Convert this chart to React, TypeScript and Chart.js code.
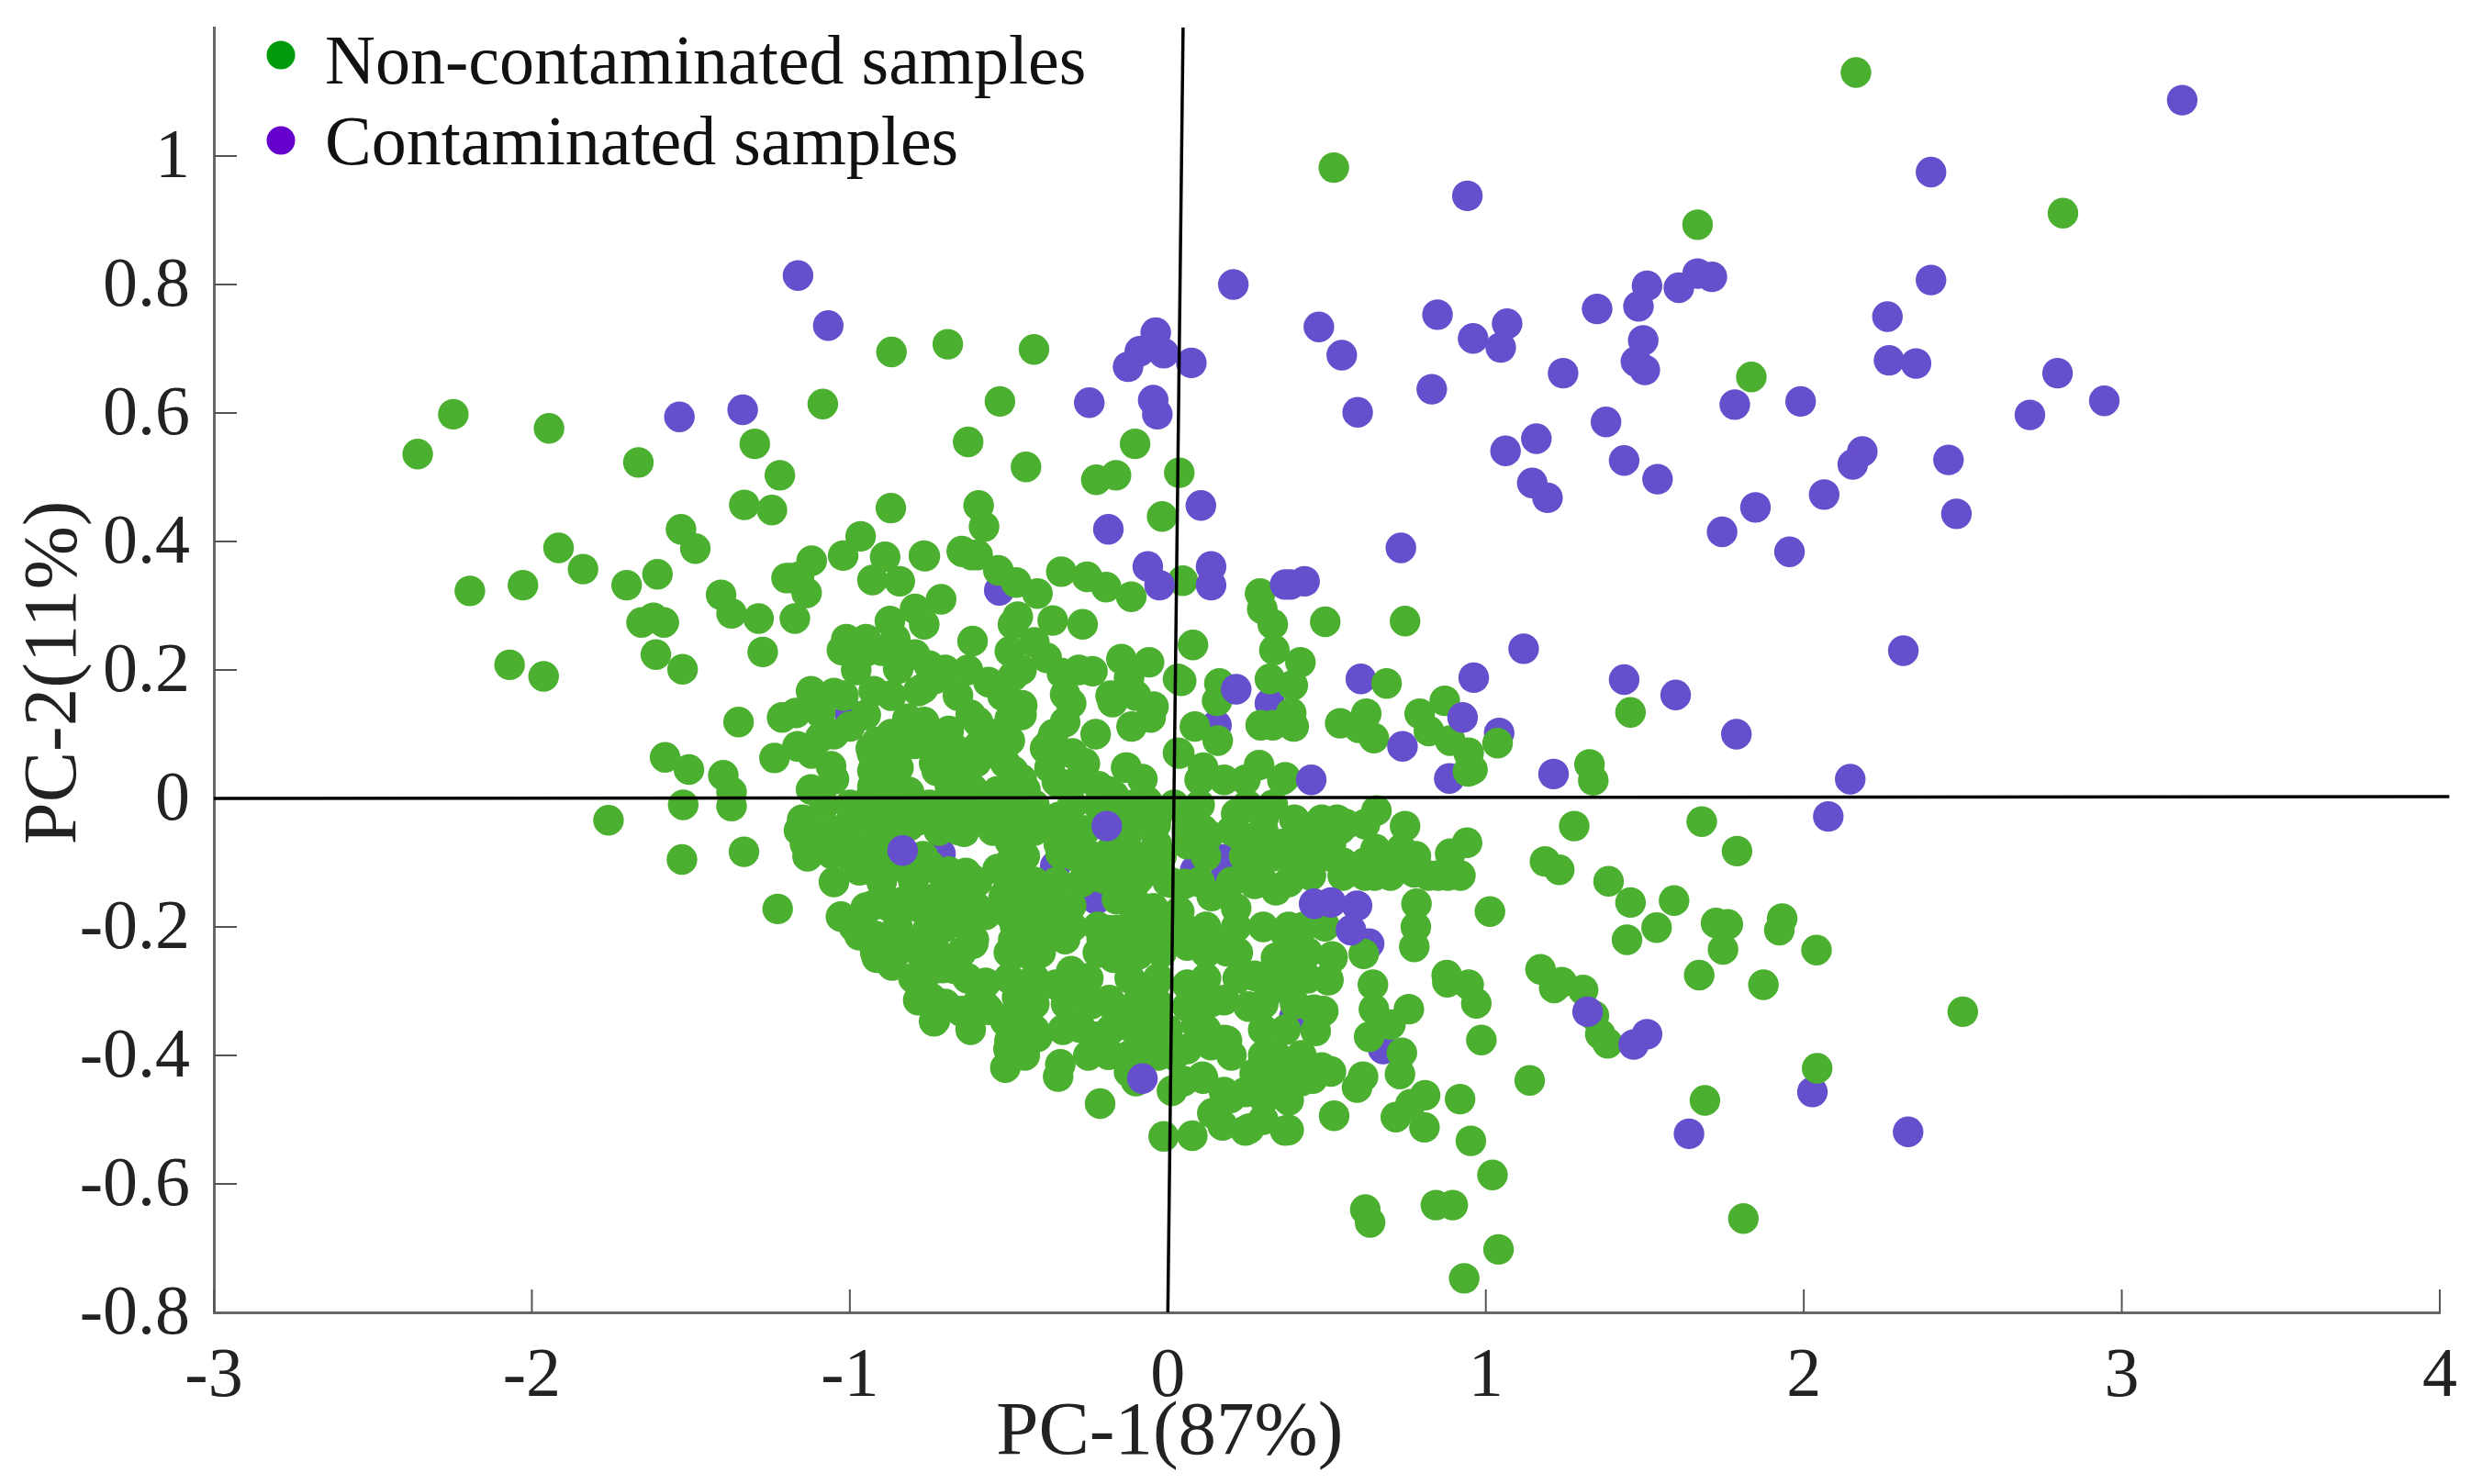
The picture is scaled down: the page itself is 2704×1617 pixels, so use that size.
import React, { useEffect, useRef } from "react";
import { Chart, registerables } from "chart.js";

Chart.register(...registerables);

type P = [number, number];

const xTicks = [-3, -2, -1, 0, 1, 2, 3, 4];
const yTickLabels = ["-0.8", "-0.6", "-0.4", "-0.2", "0", "0.2", "0.4", "0.6", "0.8", "1"];
const seriesNames = ["Non-contaminated samples", "Contaminated samples"];
const xTitle = "PC-1(87%)";
const yTitle = "PC-2(11%)";

const nonContaminatedOuter: P[] = [
  [2.164,1.13],[0.522,0.982],[1.666,0.893],[2.815,0.911],[1.835,0.656],[0.495,0.275],[0.746,0.276],
  [0.688,0.179],[1.455,0.134],[0.871,0.152],[0.792,0.132],[0.821,0.105],[0.888,0.09],[0.946,0.071],[0.958,0.045],[0.944,0.042],[1.037,0.086],[1.326,0.053],[1.338,0.028],
  [0.542,0.117],[0.624,0.132],[0.6,0.11],[0.648,0.094],[0.369,0.033],[0.417,0.212],[0.393,0.176],[0.388,0.133],[0.396,0.112],
  [0.656,-0.019],[0.746,-0.043],[0.653,-0.079],[0.734,-0.079],[0.78,-0.09],[0.941,-0.069],[0.888,-0.086],[1.278,-0.043],[1.186,-0.098],[0.532,-0.033],[0.484,-0.033],[0.398,-0.033],[0.436,-0.045],[0.542,-0.048],[0.513,-0.071],[0.427,-0.071],
  [1.679,-0.036],[1.79,-0.082],[1.231,-0.111],[1.386,-0.129],[1.455,-0.162],[1.592,-0.159],[0.782,-0.164],[1.013,-0.176],[0.78,-0.2],[0.775,-0.231],[0.492,-0.198],[1.537,-0.201],[1.444,-0.22],[1.724,-0.194],[1.761,-0.196],[1.746,-0.235],[1.932,-0.187],[1.923,-0.205],[2.04,-0.236],[1.671,-0.275],[1.873,-0.29],[2.5,-0.332],
  [0.877,-0.275],[0.879,-0.286],[0.946,-0.29],[0.97,-0.319],[1.172,-0.266],[1.239,-0.286],[1.215,-0.295],[1.306,-0.298],[1.34,-0.338],[1.36,-0.367],[1.383,-0.381],[0.986,-0.376],[1.138,-0.439],[2.042,-0.42],[1.689,-0.47],[0.919,-0.468],[0.809,-0.462],[0.763,-0.476],[0.717,-0.496],[0.807,-0.512],[0.523,-0.494],[0.38,-0.516],[0.953,-0.533],[1.021,-0.586],[0.621,-0.64],[0.636,-0.66],[0.843,-0.633],[0.896,-0.633],[1.81,-0.654],[1.04,-0.702],[0.932,-0.747],
  [0.505,-0.283],[0.517,-0.246],[0.616,-0.242],[0.645,-0.29],[0.758,-0.328],[0.648,-0.328],[0.7,-0.352],[0.633,-0.371],[0.736,-0.396],[0.73,-0.429],[0.614,-0.433],[0.595,-0.45],[0.46,-0.329],[0.489,-0.331],[0.465,-0.362],[0.484,-0.419],[0.513,-0.425],[0.456,-0.436],[0.383,-0.429],[0.306,-0.466],[0.256,-0.514],[0.33,-0.414],[0.28,-0.436],[0.369,-0.517],[0.518,-0.248],[0.504,-0.281],[0.494,-0.199],[0.379,-0.248],[0.388,-0.262],[0.369,-0.21],[0.427,-0.2],
  [0.38,-0.09],[0.455,-0.1],[0.51,-0.09],[0.595,-0.114],[0.65,-0.12],[0.775,-0.115],[0.85,-0.12],
];

const nonContaminatedLeftArm: P[] = [
  [-2.247,0.598],[-2.359,0.536],[-1.946,0.576],[-1.665,0.523],[-1.299,0.552],[-1.22,0.503],[-1.085,0.614],[-0.869,0.695],[-0.692,0.707],[-0.421,0.699],[-0.528,0.618],[-0.628,0.555],[-0.446,0.516],[-0.225,0.496],[-0.163,0.503],[-0.103,0.552],[0.036,0.507],[-0.018,0.439],
  [-1.332,0.457],[-1.245,0.449],[-1.531,0.419],[-1.486,0.389],[-1.916,0.39],[-1.839,0.357],[-1.702,0.332],[-1.605,0.349],[-2.028,0.332],[-2.195,0.323],[-0.871,0.452],[-0.595,0.456],[-0.578,0.423],[-0.966,0.408],[-1.021,0.378],[-1.12,0.37],[-1.182,0.343],[-0.889,0.376],[-0.767,0.378],[-0.648,0.385],[-0.598,0.379],
  [-1.618,0.281],[-1.655,0.274],[-1.585,0.274],[-1.61,0.224],[-1.526,0.201],[-2.07,0.208],[-1.963,0.19],[-1.274,0.228],[0.079,0.239],[0.032,0.186],
  [-1.405,0.317],[-1.372,0.288],[-1.287,0.28],[-1.136,0.32],[-1.173,0.28],[-0.929,0.34],[-0.843,0.338],[-1.199,0.343],[-1.16,0.345],
  [-0.795,0.295],[-0.874,0.276],[-1.011,0.248],[-1.025,0.231],[-0.949,0.229],[-0.949,0.248],[-0.857,0.248],[-0.848,0.202],[-0.795,0.224],[-0.785,0.167],[-0.925,0.167],[-1.35,0.119],
  [-1.122,0.167],[-1.05,0.164],[-1.213,0.126],[-1.17,0.133],[-1.093,0.133],[-1.165,0.081],[-1.237,0.063],[-1.059,0.05],[-1.122,0.014],[-1.093,0.095],[-1.0,0.112],[-0.915,0.088],[-0.862,0.062],[-0.929,0.043],[-0.929,0.019],[-0.819,0.095],[-0.819,0.124],[-0.814,0.01],
  [-1.581,0.064],[-1.506,0.045],[-1.398,0.036],[-1.372,0.01],[-1.372,-0.012],[-1.524,-0.01],[-1.759,-0.034],[-1.333,-0.083],[-1.528,-0.095],[-1.15,-0.033],[-1.126,-0.048],[-1.16,-0.05],[-1.0,-0.038],[-0.92,-0.01],[-1.141,-0.071],[-1.074,-0.076],[-0.987,-0.071],[-0.9,-0.057],[-0.814,-0.043],[-0.814,-0.005],
  [-1.227,-0.172],[-1.028,-0.184],[-0.987,-0.2],[-0.93,-0.167],[-0.881,-0.167],[-0.824,-0.167],[-0.915,-0.248],[-0.867,-0.26],[-0.92,-0.214],[-0.852,-0.238],[-0.795,-0.224],[-0.785,-0.314],[-0.949,-0.11],[-0.881,-0.11],[-0.814,-0.114],
];

const nonContaminatedUpperCore: P[] = [
  [-0.764,0.377],[-0.646,0.384],[-0.617,0.379],[-0.533,0.355],[-0.477,0.336],[-0.41,0.319],[-0.335,0.353],[-0.254,0.345],[-0.194,0.329],[0.047,0.339],[0.29,0.319],[-0.115,0.314],[-0.713,0.31],[-0.766,0.271],
  [-0.472,0.283],[-0.362,0.277],[-0.268,0.271],[-0.487,0.271],[-0.614,0.245],[-0.629,0.2],[-0.564,0.181],[-0.751,0.207],[-0.732,0.186],[-0.77,0.171],[-0.497,0.229],[-0.42,0.243],[-0.381,0.219],[-0.333,0.195],[-0.487,0.19],[-0.458,0.145],[-0.497,0.124],[-0.323,0.162],[-0.304,0.148],[-0.323,0.119],
  [-0.237,0.198],[-0.146,0.217],[-0.059,0.212],[-0.122,0.188],[-0.174,0.15],[-0.045,0.143],[-0.054,0.126],[-0.114,0.112],[0.042,0.183],[0.162,0.179],[0.155,0.152],[0.321,0.186],[0.335,0.231],[0.297,0.295],[0.33,0.271],[0.085,0.112],[0.157,0.09],[0.032,0.071],[0.292,0.114],[0.33,0.114],
  [-0.689,0.105],[-0.597,0.119],[-0.597,0.081],[-0.766,0.119],[-0.727,0.043],[-0.66,0.048],[-0.602,0.057],[-0.497,0.09],[-0.487,0.043],[-0.372,0.086],[-0.372,0.048],[-0.343,0.024],[-0.227,0.1],[-0.261,0.054],[-0.218,0.019],[-0.131,0.048],[-0.17,0.005],[-0.064,-0.005],[-0.448,0.014],[-0.612,0.014],[0.1,0.029],[0.177,0.029],[0.287,0.052],[0.244,0.029],[0.36,0.029],
];

const nonContaminatedLowerCore: P[] = [
  [-0.689,-0.024],[-0.756,-0.029],[-0.621,-0.024],[-0.641,-0.052],[-0.497,-0.029],[-0.42,-0.024],[-0.343,-0.029],[-0.497,-0.067],[-0.304,-0.048],[-0.343,-0.071],[-0.16,-0.024],[-0.073,-0.029],[-0.035,-0.029],[-0.035,-0.071],[-0.179,-0.081],[0.061,-0.029],[0.215,-0.024],[0.129,-0.057],[0.302,-0.029],[0.225,-0.057],[0.061,-0.071],[0.36,-0.071],[0.282,-0.081],
  [-0.213,-0.475],[-0.338,-0.414],[-0.345,-0.433],[-0.511,-0.419],[-0.501,-0.39],[-0.41,-0.371],[-0.472,-0.305],[-0.487,-0.338],[-0.564,-0.329],[-0.65,-0.331],[-0.732,-0.345],[-0.747,-0.31],[-0.708,-0.264],[-0.761,-0.269],[-0.453,-0.24],[-0.612,-0.226],[-0.588,-0.29],[-0.352,-0.29],[-0.304,-0.269],[-0.285,-0.3],[-0.275,-0.357],[-0.189,-0.395],[-0.184,-0.314],
  [-0.122,-0.426],[-0.045,-0.395],[-0.035,-0.333],[-0.045,-0.29],[-0.112,-0.357],[-0.16,-0.343],[-0.227,-0.371],[-0.17,-0.248],[-0.093,-0.243],[-0.054,-0.205],[-0.16,-0.205],[-0.208,-0.219],[0.013,-0.455],[-0.013,-0.526],[0.077,-0.525],[0.172,-0.509],[0.244,-0.517],
  [0.061,-0.229],[0.186,-0.238],[0.061,-0.29],[0.061,-0.324],[0.177,-0.376],[0.254,-0.324],[0.177,-0.314],[0.09,-0.352],[0.061,-0.39],[0.109,-0.433],[0.177,-0.457],[0.244,-0.457],[0.302,-0.467],[0.273,-0.428],[0.34,-0.4],[0.273,-0.276],[0.34,-0.248],[0.32,-0.3],[0.36,-0.27],[0.215,-0.2],[0.215,-0.171],[0.273,-0.133],[0.34,-0.143],[0.138,-0.152],[0.061,-0.205],[0.273,-0.114],[0.052,-0.133],
  [-0.689,-0.114],[-0.747,-0.105],[-0.62,-0.124],[-0.535,-0.11],[-0.497,-0.1],[-0.689,-0.157],[-0.747,-0.157],[-0.641,-0.162],[-0.516,-0.152],[-0.458,-0.167],[-0.381,-0.167],[-0.304,-0.167],[-0.208,-0.114],[-0.16,-0.1],[-0.246,-0.11],[-0.112,-0.114],[-0.035,-0.11],[-0.045,-0.171],[-0.112,-0.167],[-0.16,-0.157],[-0.756,-0.205],[-0.737,-0.229],[-0.766,-0.248],[-0.497,-0.181],[-0.381,-0.2],[-0.323,-0.219],[-0.573,-0.181],
  [-1.145,-0.034],[-1.133,-0.049],[-0.996,-0.041],[-1.133,-0.09],[-1.058,-0.086],[-0.97,-0.112],[-0.909,-0.086],[-0.934,0.003],[-0.934,-0.034],[-0.97,-0.213],[-0.909,-0.161],[-0.834,-0.161],[-0.859,-0.235],[-0.735,-0.265],[-0.672,-0.265],[-0.74,-0.313],[-0.648,-0.332],[-0.735,-0.347],[-0.573,-0.324],[-0.573,-0.287],[-0.474,-0.31],[-0.511,-0.347],[-0.498,-0.377],[-0.187,-0.399],[-0.187,-0.317],[-0.113,-0.354],[-0.038,-0.287],[0.136,-0.317],[-0.063,-0.384],[0.136,-0.384],[0.111,-0.436],[0.186,-0.377],[0.198,-0.466],
  [-0.71,-0.19],[-0.61,-0.22],[-0.486,-0.22],[-0.411,-0.176],[-0.187,-0.205],[-0.113,-0.198],[0.012,-0.213],[0.136,-0.22],[-0.66,-0.161],[-0.511,-0.161],[-0.337,-0.168],[-0.088,-0.168],[0.036,-0.176],
  [-0.847,0.048],[-0.735,0.055],[-0.685,0.018],[-0.511,0.055],[-0.386,0.078],[-0.262,0.055],[-0.13,0.048],[0.036,0.07],[-0.187,0.011],[0.111,0.048],[-0.536,0.011],[-0.349,0.026],[-0.672,0.078],[-0.934,0.078],[-0.797,0.085],
  [-0.785,-0.034],[-0.66,-0.049],[-0.486,-0.027],[-0.361,-0.034],[-0.486,-0.064],[-0.187,-0.086],[-0.337,-0.086],[-0.038,-0.041],[0.111,-0.049],[-0.76,-0.108],[-0.635,-0.116],[-0.461,-0.116],[-0.212,-0.123],[-0.088,-0.123],[0.012,-0.131],
];

const nonContaminatedDenseUpper: P[] = [
  [-0.9,0.23],
  [-0.98,0.2],[-0.7,0.2],[-0.46,0.2],[-0.28,0.2],
  [-1.02,0.16],[-0.87,0.16],[-0.66,0.16],[-0.52,0.16],[-0.18,0.16],[-0.1,0.16],
  [-0.95,0.13],[-0.62,0.13],[-0.46,0.13],
  [-1.05,0.1],[-0.87,0.1],[-0.76,0.1],[-0.54,0.1],[-0.36,0.1],
  [-1.12,0.07],[-0.93,0.07],[-0.7,0.07],[-0.54,0.07],[-0.3,0.07],
  [-1.05,0.03],[-0.87,0.03],[-0.65,0.03],[-0.46,0.03],[-0.28,0.03],[-0.08,0.03],
];

const nonContaminatedDenseLower: P[] = [
  [-1.08,-0.01],[-1.0,-0.01],[-0.87,-0.01],[-0.75,-0.01],[-0.68,-0.01],[-0.58,-0.01],[-0.5,-0.01],[-0.42,-0.01],[-0.3,-0.01],[-0.22,-0.01],[-0.11,-0.01],[0.02,-0.01],[0.1,-0.01],[0.25,-0.01],[0.33,-0.01],
  [-1.05,-0.05],[-0.86,-0.05],[-0.72,-0.05],[-0.55,-0.05],[-0.42,-0.05],[-0.26,-0.05],[-0.12,-0.05],[0.06,-0.05],[0.2,-0.05],[0.3,-0.05],[0.56,-0.04],[0.62,-0.04],
  [-1.0,-0.09],[-0.84,-0.09],[-0.77,-0.09],[-0.45,-0.09],[-0.29,-0.09],[-0.24,-0.09],[-0.1,-0.09],[-0.02,-0.09],[0.12,-0.09],[0.24,-0.09],[0.33,-0.09],[0.55,-0.1],[0.62,-0.1],[0.7,-0.1],
  [-1.05,-0.13],[-0.9,-0.13],[-0.8,-0.13],[-0.7,-0.13],[-0.6,-0.13],[-0.5,-0.13],[-0.42,-0.13],[-0.35,-0.13],[-0.27,-0.13],[-0.18,-0.13],[-0.1,-0.13],[0.0,-0.13],[0.1,-0.13],[0.2,-0.13],[0.3,-0.13],[0.38,-0.13],[0.45,-0.12],[0.55,-0.12],[0.62,-0.12],[0.7,-0.12],[0.82,-0.12],[0.88,-0.12],[0.92,-0.12],
  [-0.95,-0.17],[-0.78,-0.17],[-0.7,-0.17],[-0.6,-0.17],
  [-0.85,-0.2],[-0.7,-0.2],[-0.63,-0.2],[-0.48,-0.2],[-0.43,-0.2],[-0.3,-0.2],[-0.22,-0.2],[-0.12,-0.2],[0.0,-0.2],[0.12,-0.2],[0.3,-0.2],[0.38,-0.2],
  [-0.92,-0.24],[-0.78,-0.24],[-0.65,-0.24],[-0.5,-0.24],[-0.4,-0.24],[-0.22,-0.24],[-0.12,-0.24],[-0.02,-0.24],[0.12,-0.24],[0.22,-0.24],[0.38,-0.24],[0.44,-0.24],
  [-0.8,-0.28],[-0.63,-0.28],[-0.5,-0.28],[-0.42,-0.28],[-0.25,-0.28],[-0.12,-0.28],[-0.03,-0.28],[0.12,-0.28],[0.22,-0.28],[0.38,-0.28],[0.44,-0.28],
  [-0.7,-0.32],[-0.6,-0.32],[-0.42,-0.32],[-0.32,-0.32],[-0.24,-0.32],[-0.1,-0.32],[-0.03,-0.32],[0.3,-0.32],[0.4,-0.32],
  [-0.62,-0.36],[-0.42,-0.36],[-0.33,-0.36],[-0.18,-0.36],[-0.08,-0.36],[0.0,-0.36],[0.12,-0.36],[0.3,-0.36],[0.37,-0.36],
  [-0.45,-0.4],[-0.25,-0.4],[-0.12,-0.4],[-0.03,-0.4],[0.02,-0.4],[0.2,-0.4],[0.3,-0.4],[0.42,-0.4],
  [-0.1,-0.44],[0.05,-0.44],[0.33,-0.46],[0.38,-0.47],[0.42,-0.44],[0.3,-0.5],[0.14,-0.49],
];

const contaminatedBehind: P[] = [
  [-1.0,0.131],[0.153,0.114],[0.321,0.148],[-0.715,-0.086],[-0.354,-0.105],[-0.225,-0.157],[0.173,-0.095],[0.086,-0.112],[0.18,-0.123],[0.607,0.186],[0.885,0.031],[1.042,0.102],[2.027,-0.457],[0.398,-0.34],[0.677,-0.39],[0.633,-0.226],[-0.53,0.324],
];

const contaminatedFront: P[] = [
  [3.19,1.087],[2.4,0.975],[0.942,0.938],[2.4,0.807],[1.507,0.798],[1.607,0.795],[1.666,0.817],[1.711,0.812],[0.206,0.8],[0.848,0.753],[1.35,0.762],[1.48,0.766],[2.263,0.75],[0.475,0.734],[0.547,0.69],[0.96,0.716],[1.067,0.739],[1.047,0.702],[1.495,0.713],[1.243,0.662],[1.472,0.68],[1.5,0.667],[0.83,0.637],[0.597,0.601],[2.268,0.682],[2.353,0.677],[2.798,0.662],[2.945,0.619],[2.711,0.597],[1.783,0.613],[1.99,0.618],[1.378,0.586],[1.159,0.56],[1.062,0.541],[1.435,0.526],[1.54,0.497],[1.146,0.491],[1.194,0.468],[2.184,0.54],[2.154,0.52],[2.455,0.527],[2.064,0.473],[1.848,0.453],[2.48,0.443],[1.743,0.415],[1.955,0.384],[0.733,0.39],[0.43,0.338],[0.385,0.333],
  [1.119,0.233],[2.313,0.23],[0.962,0.188],[1.435,0.185],[1.597,0.161],[0.927,0.126],[0.738,0.081],[0.451,0.029],[1.213,0.038],[1.788,0.1],[2.146,0.03],[2.077,-0.028],
  [1.32,-0.332],[1.507,-0.367],[1.465,-0.383],[1.639,-0.522],[2.328,-0.519],[0.46,-0.164],[0.513,-0.162],[0.595,-0.167],[0.576,-0.205],
  [-1.163,0.814],[-1.068,0.736],[-1.536,0.594],[-1.337,0.605],[-0.038,0.725],[-0.088,0.696],[-0.013,0.693],[-0.125,0.672],[0.074,0.678],[-0.247,0.616],[-0.046,0.62],[-0.033,0.598],[0.104,0.456],[-0.187,0.419],[-0.063,0.361],[-0.026,0.332],[0.136,0.361],[0.136,0.332],[0.369,0.333],
  [0.215,0.17],[-0.834,-0.081],[-0.192,-0.043],[-0.08,-0.436],
];

const horizontalAxisLine: P[] = [[-3, 0], [4.03, 0.003]];
const verticalAxisLine: P[] = [[0.048, 1.2], [0, -0.8]];

const greenMark = "#4BAF30";
const purpleMark = "#664FCC";
const greenKey = "#009A0A";
const purpleKey = "#6600CC";
const serif = '"Liberation Serif", "Times New Roman", serif';

const overlayPlugin = {
  id: "overlay",
  afterDatasetsDraw(chart: any) {
    const { ctx, scales } = chart;
    const xs = scales.x;
    const ys = scales.y;
    ctx.save();
    // inward tick marks
    ctx.strokeStyle = "#555555";
    ctx.lineWidth = 2;
    ctx.beginPath();
    xTicks.forEach((v) => {
      const p = xs.getPixelForValue(v);
      if (v !== 0) {
        ctx.moveTo(p, ys.bottom);
        ctx.lineTo(p, ys.bottom - 25);
      }
    });
    yTickLabels.forEach((t) => {
      const p = ys.getPixelForValue(Number(t));
      if (Number(t) !== 0 && Number(t) !== -0.8) {
        ctx.moveTo(xs.left, p);
        ctx.lineTo(xs.left + 25, p);
      }
    });
    ctx.stroke();
    // axis titles
    ctx.fillStyle = "#222222";
    ctx.font = `83px ${serif}`;
    ctx.textAlign = "center";
    ctx.textBaseline = "alphabetic";
    ctx.fillText(xTitle, xs.getPixelForValue(0) + 2, 1584);
    ctx.save();
    ctx.translate(82, 733);
    ctx.rotate(-Math.PI / 2);
    ctx.fillText(yTitle, 0, 0);
    ctx.restore();
    // legend
    ctx.font = `76px ${serif}`;
    ctx.textAlign = "left";
    ctx.fillStyle = "#111111";
    ctx.fillText(seriesNames[0], 354, 91);
    ctx.fillText(seriesNames[1], 354, 179);
    ctx.fillStyle = greenKey;
    ctx.beginPath();
    ctx.arc(306, 60, 15.5, 0, Math.PI * 2);
    ctx.fill();
    ctx.fillStyle = purpleKey;
    ctx.beginPath();
    ctx.arc(306, 153, 15.5, 0, Math.PI * 2);
    ctx.fill();
    ctx.restore();
  },
};

const nonContaminated: P[] = [
  ...nonContaminatedOuter,
  ...nonContaminatedLeftArm,
  ...nonContaminatedUpperCore,
  ...nonContaminatedLowerCore,
  ...nonContaminatedDenseUpper,
  ...nonContaminatedDenseLower,
];

const toPoints = (list: P[]) => list.map(([x, y]) => ({ x, y }));

export default function App() {
  const ref = useRef<HTMLCanvasElement | null>(null);
  useEffect(() => {
    document.body.style.margin = "0";
    document.body.style.background = "#ffffff";
    const marks = { showLine: false, pointRadius: 16.7, pointHoverRadius: 16.7, pointBorderWidth: 0 };
    const line = {
      showLine: true,
      pointRadius: 0,
      borderColor: "#000000",
      borderWidth: 3.5,
      clip: false,
    };
    const chart = new Chart(ref.current!, {
      type: "scatter",
      data: {
        datasets: [
          { label: "", data: toPoints(horizontalAxisLine), order: 0, ...line },
          { label: "", data: toPoints(verticalAxisLine), order: 0, ...line },
          { label: seriesNames[1], data: toPoints(contaminatedFront), order: 1, backgroundColor: purpleMark, borderColor: purpleMark, ...marks },
          { label: seriesNames[0], data: toPoints(nonContaminated), order: 2, backgroundColor: greenMark, borderColor: greenMark, ...marks },
          { label: seriesNames[1], data: toPoints(contaminatedBehind), order: 3, backgroundColor: purpleMark, borderColor: purpleMark, ...marks },
        ],
      } as any,
      options: {
        animation: false,
        responsive: false,
        devicePixelRatio: 1,
        layout: { padding: { top: 30, right: 46, left: 0, bottom: 0 } },
        plugins: { legend: { display: false }, tooltip: { enabled: false } },
        scales: {
          x: {
            type: "linear",
            min: -3,
            max: 4,
            afterFit(s: any) { s.height = 187; s.paddingLeft = 0; s.paddingRight = 0; },
            afterBuildTicks(s: any) { s.ticks = xTicks.map((value) => ({ value })); },
            grid: { display: false, drawTicks: false },
            border: { display: true, color: "#666666", width: 3 },
            ticks: {
              color: "#222222",
              padding: 25,
              maxRotation: 0,
              autoSkip: false,
              font: { family: serif, size: 76 },
              callback: (v: any) => String(v),
            },
          },
          y: {
            type: "linear",
            min: -0.8,
            max: 1.2,
            afterFit(s: any) { s.width = 233; s.paddingTop = 0; s.paddingBottom = 0; },
            afterBuildTicks(s: any) { s.ticks = yTickLabels.map((t) => ({ value: Number(t) })); },
            grid: { display: false, drawTicks: false },
            border: { display: true, color: "#666666", width: 3 },
            ticks: {
              color: "#222222",
              padding: 26,
              labelOffset: 3,
              autoSkip: false,
              font: { family: serif, size: 76 },
              callback: (v: any) => String(Number(Number(v).toFixed(1))),
            },
          },
        },
      } as any,
      plugins: [overlayPlugin],
    });
    return () => chart.destroy();
  }, []);
  return <canvas ref={ref} width={2704} height={1617} style={{ display: "block" }} />;
}
